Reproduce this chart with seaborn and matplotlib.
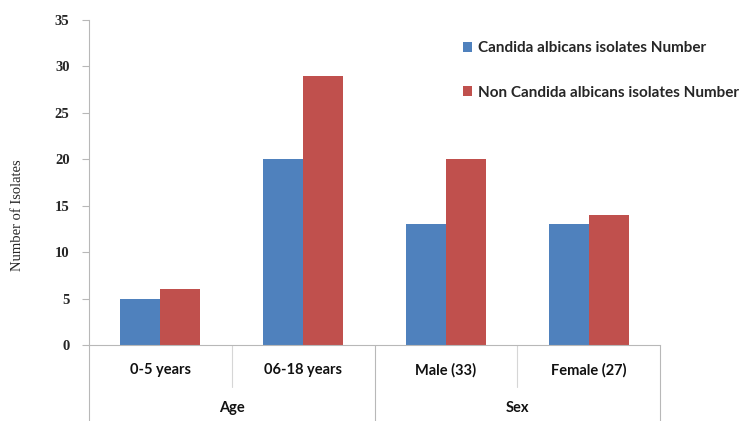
import matplotlib
matplotlib.use("Agg")
import matplotlib.pyplot as plt
import seaborn as sns
import pandas as pd
from matplotlib.patches import Patch

# Data
categories = ["0-5 years", "06-18 years", "Male (33)", "Female (27)"]
groups = ["Age", "Sex"]
group_members = [2, 2]
series = ["Candida albicans isolates Number", "Non Candida albicans isolates Number"]
albicans = [5, 20, 13, 13]
non_albicans = [6, 29, 20, 14]
y_ticks = [0, 5, 10, 15, 20, 25, 30, 35]
colors = ["#4F81BD", "#C0504D"]

df = pd.DataFrame({
    "Category": categories * 2,
    "Series": [series[0]] * len(categories) + [series[1]] * len(categories),
    "Count": albicans + non_albicans,
})

sns.set_theme(style="white")
plt.rcParams["font.family"] = ["Lato", "DejaVu Sans"]

fig = plt.figure(figsize=(7.5, 4.21), dpi=100)
ax = fig.add_axes([89 / 750, 76 / 421, 571 / 750, 325 / 421])

sns.barplot(data=df, x="Category", y="Count", hue="Series", order=categories,
            hue_order=series, palette=colors, width=0.56, saturation=1,
            linewidth=0, ax=ax, legend=False)

axis_color = "#B8B8B8"
ax.set_ylim(0, 35)
ax.set_xlim(-0.5, len(categories) - 0.5)
ax.set_yticks(y_ticks)
ax.set_yticklabels([str(t) for t in y_ticks], family="Liberation Serif",
                   fontweight="bold", fontsize=10.5)
ax.tick_params(axis="y", which="major", length=5, width=0.8, color=axis_color,
               left=True, pad=9)
ax.set_xticks([])
ax.set_xlabel("")
ax.set_ylabel("")
for side in ["top", "right"]:
    ax.spines[side].set_visible(False)
for side in ["left", "bottom"]:
    ax.spines[side].set_color(axis_color)
    ax.spines[side].set_linewidth(0.8)

# Extend the y axis line below the plot area
ax.plot([0, 0], [0, -0.234], transform=ax.transAxes, color=axis_color,
        lw=0.8, clip_on=False)

# Two-level category axis
trans = ax.get_xaxis_transform()
row1_y = -0.077
row2_y = -0.194
short_end = -0.129
long_end = -0.234
for i, cat in enumerate(categories):
    ax.text(i, row1_y, cat, transform=trans, ha="center", va="center",
            fontsize=10.5, fontweight="bold", color="#111111")

start = 0
boundaries = [-0.5]
for name, n in zip(groups, group_members):
    center = start + (n - 1) / 2
    ax.text(center, row2_y, name, transform=trans, ha="center", va="center",
            fontsize=10.5, fontweight="bold", color="#111111")
    for k in range(1, n):
        x = start + k - 0.5
        ax.plot([x, x], [0, short_end], transform=trans, color="#D6D6D6",
                lw=0.8, clip_on=False)
    start += n
    boundaries.append(start - 0.5)
for x in boundaries[1:]:
    ax.plot([x, x], [0, long_end], transform=trans, color=axis_color,
            lw=0.8, clip_on=False)

# Y axis title
fig.text(18 / 750, 1 - 215 / 421, "Number of Isolates", rotation=90,
         ha="center", va="center", family="Liberation Serif", fontsize=10.5)

# Legend
handles = [Patch(facecolor=c, edgecolor="none") for c in colors]
fig.legend(handles, series, loc="upper left", bbox_to_anchor=(457 / 750, 1 - 35 / 421),
           frameon=False, prop={"family": "Lato", "weight": "bold", "size": 11},
           handlelength=0.6, handleheight=0.6, handletextpad=0.35,
           labelspacing=2.0, borderaxespad=0)

fig.savefig("out.png", dpi=100)
